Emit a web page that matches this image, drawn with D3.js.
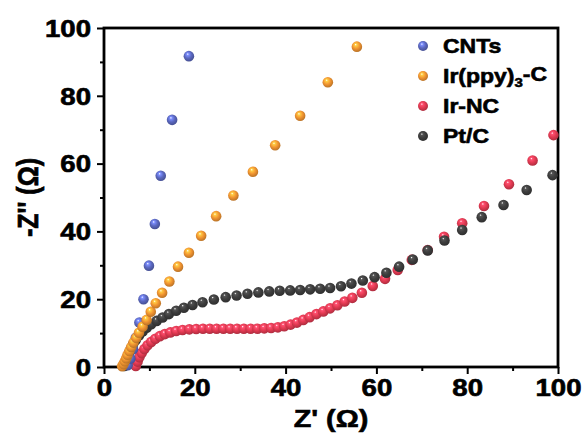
<!DOCTYPE html>
<html>
<head>
<meta charset="utf-8">
<script src="https://cdn.jsdelivr.net/npm/d3@7"></script>
<style>
	html, body { margin: 0; padding: 0; background: #fff; }
	svg text { font-family: "Liberation Sans", Arial, sans-serif; font-weight: bold; fill: #000; stroke: #000; stroke-width: 0.6px; }
</style>
</head>
<body>
<svg id="chart" width="585" height="439"></svg>
<script>
// Nyquist data, Z' (ohm) vs -Z'' (ohm)
var cnts = [[5.2,0.5],[5.8,2.5],[6.4,5.2],[7.0,8.6],[7.8,13.1],[8.7,20.0],[9.9,29.9],[11.2,42.2],[12.5,56.4],[15.0,72.9],[18.7,91.7]];

var irppy = [[4.0,0.2],[4.3,0.9],[4.6,1.7],[4.9,2.6],[5.2,3.6],[5.6,4.7],[6.0,5.9],[6.5,7.2],[7.1,8.6],[7.7,10.1],[8.5,11.9],[9.4,13.9],[10.3,16.3],[11.4,18.8],[12.8,21.9],[14.4,25.2],[16.3,29.6],[18.7,33.7],[21.4,38.7],[24.7,44.5],[28.5,50.6],[32.8,57.6],[37.7,65.4],[43.2,74.1],[49.3,84.0],[55.7,94.5]];

var irnc = [[7.0,0.3],[7.4,1.6],[7.8,2.9],[8.3,4.1],[8.9,5.3],[9.6,6.4],[10.4,7.4],[11.3,8.3],[12.3,9.1],[13.4,9.7],[14.6,10.2],[15.9,10.6],[17.3,10.9],[18.8,11.1],[20.3,11.2],[21.8,11.3],[23.3,11.3],[24.8,11.3],[26.3,11.3],[27.8,11.3],[29.3,11.3],[30.8,11.3],[32.3,11.3],[33.8,11.3],[35.3,11.4],[36.8,11.5],[38.3,11.7],[39.7,12.0],[41.1,12.5],[42.5,13.1],[43.9,13.9],[45.3,14.7],[46.8,15.6],[48.3,16.4],[49.8,17.3],[51.4,18.2],[53.0,19.3],[54.7,20.4],[56.8,21.9],[59.2,23.9],[61.9,26.0],[64.7,28.6],[67.8,31.6],[71.3,34.5],[74.9,38.4],[78.9,42.4],[83.7,47.5],[89.2,53.9],[94.4,60.9],[99.0,68.4]];

var ptc = [[4.5,0.3],[4.8,1.5],[5.1,2.8],[5.5,4.1],[5.9,5.4],[6.4,6.7],[7.0,8.0],[7.7,9.3],[8.5,10.5],[9.4,11.6],[10.4,12.6],[11.6,13.6],[12.9,14.6],[14.3,15.6],[15.9,16.6],[17.6,17.5],[19.5,18.3],[21.7,19.1],[24.2,19.9],[26.8,20.6],[29.2,21.1],[31.6,21.6],[34.0,22.0],[36.4,22.3],[38.7,22.5],[41.0,22.6],[43.2,22.7],[45.4,22.9],[47.6,23.1],[49.8,23.3],[52.2,23.8],[54.5,24.6],[57.0,25.5],[59.6,26.5],[62.2,27.8],[65.0,29.6],[68.0,31.7],[71.3,34.4],[75.0,37.3],[78.9,40.4],[83.2,44.2],[88.0,47.8],[93.1,52.2],[98.8,56.6]];

var seriesNames = ["CNTs", "Ir(ppy)3-C", "Ir-NC", "Pt/C"];
var seriesColors = ["#5b68c0", "#f29531", "#e23a52", "#3d3d3d"];
var xTicks = [0, 20, 40, 60, 80, 100];
var yTicks = [0, 20, 40, 60, 80, 100];

var svg = d3.select("#chart");
var margin = {top: 28, right: 27, bottom: 72, left: 104};
var width = 585 - margin.left - margin.right,
	height = 439 - margin.top - margin.bottom;
// text in the reference looks horizontally stretched
var sx = 1.2;

var x = d3.scaleLinear().domain([0, 100]).range([0, width]);
var y = d3.scaleLinear().domain([0, 100]).range([height, 0]);

// shaded balls
var defs = svg.append("defs");
seriesColors.forEach(function(c, i) {
	var g = defs.append("radialGradient")
		.attr("id", "ball" + i)
		.attr("cx", "45%").attr("cy", "42%").attr("r", "60%")
		.attr("fx", "38%").attr("fy", "30%");
	g.append("stop").attr("offset", "0%").attr("stop-color", "#ffffff");
	g.append("stop").attr("offset", "18%").attr("stop-color", d3.color(c).brighter(0.9));
	g.append("stop").attr("offset", "55%").attr("stop-color", c);
	g.append("stop").attr("offset", "100%").attr("stop-color", d3.color(c).darker(0.8));
});

var plot = svg.append("g").attr("transform", "translate(" + margin.left + "," + margin.top + ")");

// axes, major + minor ticks pointing out
var xMinor = d3.range(10, 100, 20);
var yMinor = d3.range(10, 100, 20);

plot.append("g").attr("transform", "translate(0," + height + ")")
	.call(d3.axisBottom(x).tickValues(xMinor).tickSize(4).tickFormat(""));
var xAxis = plot.append("g").attr("transform", "translate(0," + height + ")")
	.call(d3.axisBottom(x).tickValues(xTicks).tickSize(7).tickPadding(4));
plot.append("g")
	.call(d3.axisLeft(y).tickValues(yMinor).tickSize(4).tickFormat(""));
var yAxis = plot.append("g")
	.call(d3.axisLeft(y).tickValues(yTicks).tickSize(7));

plot.selectAll(".domain").remove();
plot.selectAll(".tick line").attr("stroke", "#000").attr("stroke-width", 2);

xAxis.selectAll(".tick text")
	.attr("y", 13).attr("dy", "0.71em")
	.attr("transform", "scale(" + sx + ",1)")
	.style("font-size", "23px").style("font-family", "'Liberation Sans', Arial, sans-serif");
yAxis.selectAll(".tick text")
	.attr("x", -13 / sx).attr("dy", "0.36em")
	.attr("transform", "scale(" + sx + ",1)")
	.style("font-size", "23px").style("font-family", "'Liberation Sans', Arial, sans-serif");

// frame
plot.append("rect")
	.attr("width", width).attr("height", height)
	.attr("fill", "none").attr("stroke", "#000").attr("stroke-width", 2.8);

// data, bottom to top
var drawOrder = [2, 3, 0, 1];
var allSeries = [cnts, irppy, irnc, ptc];
var r = 5.3;
drawOrder.forEach(function(i) {
	plot.append("g").selectAll("circle")
		.data(allSeries[i])
		.enter().append("circle")
		.attr("cx", function(d) { return x(d[0]); })
		.attr("cy", function(d) { return y(d[1]); })
		.attr("r", r)
		.attr("fill", "url(#ball" + i + ")");
});

// axis titles
svg.append("g")
	.attr("transform", "translate(" + (margin.left + width / 2) + ",427) scale(" + sx + ",1)")
	.append("text")
	.attr("text-anchor", "middle")
	.style("font-size", "24px")
	.text("Z' (\u03A9)");

svg.append("g")
	.attr("transform", "translate(38," + (margin.top + height / 2) + ") rotate(-90) scale(1," + sx + ")")
	.append("text")
	.attr("text-anchor", "middle")
	.style("font-size", "25px")
	.text("-Z'' (\u03A9)");

// legend
var legend = svg.append("g").attr("transform", "translate(423,46)");
seriesNames.forEach(function(name, i) {
	var row = legend.append("g").attr("transform", "translate(0," + (i * 30) + ")");
	row.append("circle").attr("r", 5).attr("fill", "url(#ball" + i + ")");
	var t = row.append("g").attr("transform", "translate(20,0) scale(1.15,1)")
		.append("text")
		.attr("dy", "0.36em")
		.style("font-size", "20px");
	if (name == "Ir(ppy)3-C") {
		t.append("tspan").text("Ir(ppy)");
		t.append("tspan").attr("dy", "0.3em").style("font-size", "13px").text("3");
		t.append("tspan").attr("dy", "-0.3em").text("-C");
	}
	else {
		t.text(name);
	}
});
</script>
</body>
</html>
